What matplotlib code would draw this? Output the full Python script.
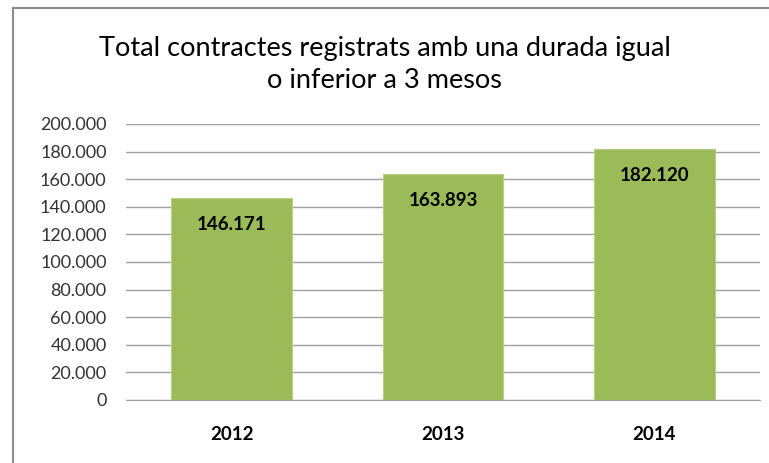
import numpy as np
import matplotlib.pyplot as plt
from matplotlib.lines import Line2D
from matplotlib.ticker import FuncFormatter

# --------------------------------------------------------------------------- #
# Data
# --------------------------------------------------------------------------- #
years = ['2012', '2013', '2014'];
contracts = [146171, 163893, 182120];
yticks = [0, 20000, 40000, 60000, 80000, 100000, 120000, 140000, 160000, 180000, 200000];

title = "Total contractes registrats amb una durada igual\no inferior a 3 mesos";

def fmtThousands(v):
  return "{:,.0f}".format(v).replace(",", ".");

# --------------------------------------------------------------------------- #
# Plot
# --------------------------------------------------------------------------- #
plt.rcParams['font.family'] = ['Lato', 'DejaVu Sans'];

fig = plt.figure(figsize=(7.69, 4.63), dpi=100);
ax = fig.add_axes([126/769, 63/463, 634/769, 276/463]);

x = np.arange(len(years));
bars = ax.bar(x, contracts, width=0.57, color='#9BBB59', edgecolor='#B5CF84', linewidth=0.8, zorder=3);

for b, v in zip(bars, contracts):
  ax.annotate(fmtThousands(v), (b.get_x() + b.get_width()/2, v), xytext=(0, -19),
              textcoords='offset points', ha='center', va='center',
              fontsize=13.5, fontweight='bold', color='black', zorder=4);

ax.set_xlim(-0.5, len(years) - 0.5);
ax.set_ylim(0, 200000);
ax.set_yticks(yticks);
ax.yaxis.set_major_formatter(FuncFormatter(lambda v, pos: fmtThousands(v)));
ax.set_xticks(x);
ax.set_xticklabels(years, fontsize=13.5, fontweight='bold');
ax.tick_params(axis='y', length=0, pad=14, labelsize=13, labelcolor='#333333');
ax.tick_params(axis='x', length=0, pad=19);

ax.grid(axis='y', color='#A0A0A0', linewidth=1, zorder=0);
for s in ['top', 'right', 'left']:
  ax.spines[s].set_visible(False);
ax.spines['bottom'].set_color('#A0A0A0');
ax.spines['bottom'].set_zorder(5);

fig.text(0.5, 0.86, title, ha='center', va='center', fontsize=19.5,
         color='black', linespacing=1.35);

# chart border (left and top edges only visible)
fig.add_artist(Line2D([13/769, 13/769], [0, 1 - 8/463], transform=fig.transFigure,
                      color='#8C8C8C', linewidth=1.5));
fig.add_artist(Line2D([13/769, 1], [1 - 8/463, 1 - 8/463], transform=fig.transFigure,
                      color='#8C8C8C', linewidth=1.5));

fig.savefig('out.png', dpi=100);
